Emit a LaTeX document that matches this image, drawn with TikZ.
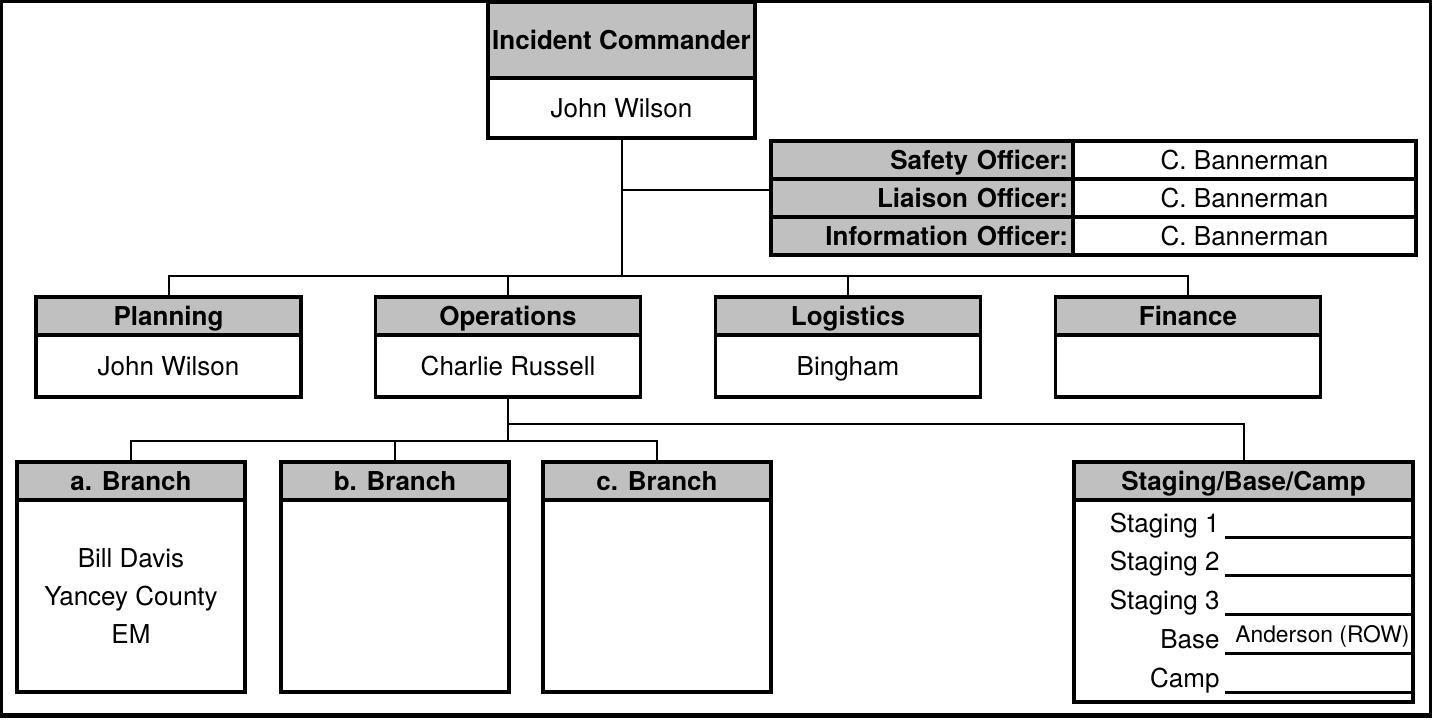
\documentclass[tikz,border=0pt]{standalone}
\usepackage{fontspec}
\setmainfont{TeX Gyre Heros}
\usetikzlibrary{positioning}
\definecolor{headgray}{RGB}{192,192,192}

\begin{document}
\begin{tikzpicture}[x=0.5pt, y=-0.5pt,
        head/.style={draw, fill=headgray, line width=1.75pt, inner sep=0pt, outer sep=0pt,
                minimum height=19pt, text height=12.3pt, text depth=3pt,
                font=\fontsize{13}{15}\selectfont\bfseries},
        body/.style={draw, line width=1.75pt, inner sep=0pt, outer sep=0pt,
                text height=12.3pt, text depth=3pt, font=\fontsize{13}{15}\selectfont},
        wire/.style={line width=1pt}]
        \useasboundingbox (0,0) rectangle (1432,719);
        \draw[line width=1.5pt] (1,1) rectangle (1430,715);
        \draw[line width=2.5pt] (0,715) -- (1432,715);

        % commander
        \node[head, minimum width=133.5pt, minimum height=38pt] (IC) at (621.5,40) {Incident Commander};
        \node[body, minimum width=133.5pt, minimum height=30pt, below=0pt of IC] (ICn) {John Wilson};

        % command staff
        \foreach \role [count=\i] in {Safety Officer:, Liaison Officer:, Information Officer:} {
                \node[head, text width=146pt, align=right, inner xsep=2.5pt] (so\i) at (922,{160+38*(\i-1)}) {\role};
                \node[body, minimum width=171.5pt, minimum height=19pt, right=0pt of so\i] (sn\i) {C. Bannerman};
        }

        % general staff
        \foreach \nm/\x/\hd/\who in {pl/168.5/Planning/John Wilson, op/508/Operations/Charlie Russell,
                        lo/848/Logistics/Bingham, fi/1188/Finance/{}} {
                \node[head, minimum width=132.5pt] (\nm) at (\x,316) {\hd};
                \node[body, minimum width=132.5pt, minimum height=31pt, below=0pt of \nm] (\nm n) {\who};
        }

        % branches
        \foreach \nm/\x/\hd in {ba/131/a. Branch, bb/395/b. Branch, bc/657/c. Branch} {
                \node[head, minimum width=114pt] (\nm) at (\x,481) {\hd};
                \node[body, minimum width=114pt, minimum height=96pt, below=0pt of \nm] (\nm n) {};
        }
        \node[font=\fontsize{13}{19}\selectfont, align=center] at (ban) {Bill Davis\\Yancey County\\EM};

        % staging
        \node[head, minimum width=169.5pt] (st) at (1243.5,481) {Staging/Base/Camp};
        \node[body, minimum width=169.5pt, minimum height=101pt, below=0pt of st] (stn) {};
        \foreach \lab [count=\i] in {Staging 1, Staging 2, Staging 3, Base, Camp} {
                \pgfmathsetmacro{\yl}{537+38.75*(\i-1)}
                \node[font=\fontsize{13}{15}\selectfont, anchor=base east, inner sep=0pt] (sl\i) at (1220,\yl-5) {\lab};
                \draw[line width=1.5pt] (1225,\yl) -- (stn.east |- 1225,\yl);
        }
        \node[font=\fontsize{11.4}{13}\selectfont, anchor=base west, inner sep=0pt] (base) at (1235,642) {Anderson (ROW)};

        % connectors
        \coordinate (bus) at (622,276);
        \coordinate (brbus) at (508,441);
        \coordinate (stbus) at (508,424);
        \coordinate (ofc) at ([yshift=4pt]so2.west);
        \draw[wire] (ICn.south) -- (ICn.south |- bus);
        \draw[wire] (ICn.south |- ofc) -- (ofc);
        \draw[wire] (pl.north) |- (bus) -| (fi.north);
        \draw[wire] (op.north) -- (op.north |- bus);
        \draw[wire] (lo.north) -- (lo.north |- bus);
        \draw[wire] (opn.south) -- (brbus);
        \draw[wire] (ba.north) |- (brbus) -| (bc.north);
        \draw[wire] (bb.north) -- (bb.north |- brbus);
        \draw[wire] (stbus) -| (st.north);
\end{tikzpicture}
\end{document}
